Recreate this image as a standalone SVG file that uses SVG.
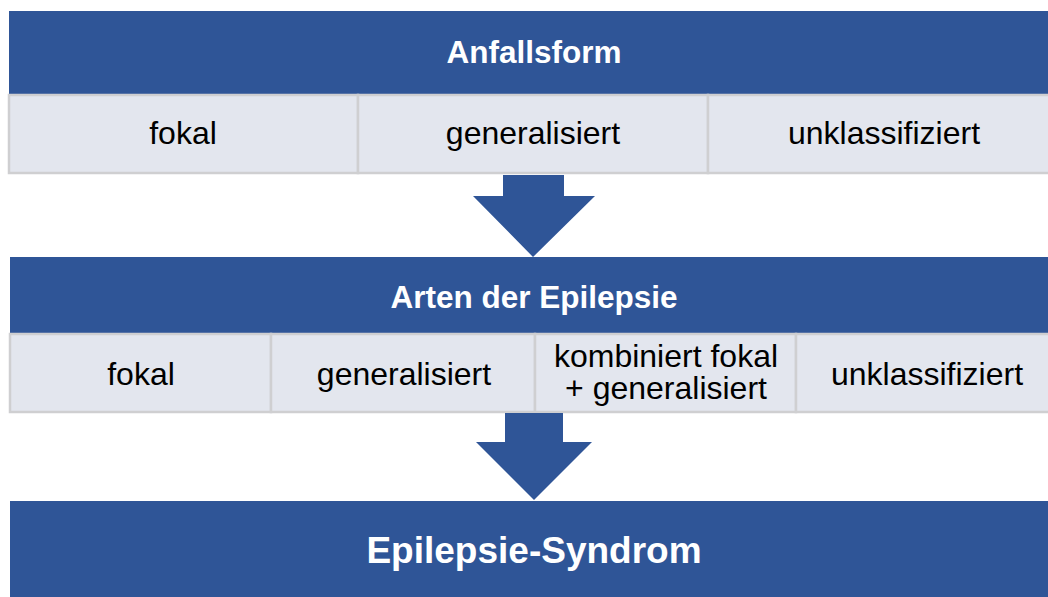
<svg xmlns="http://www.w3.org/2000/svg" width="1048" height="597" viewBox="0 0 1048 597">
<style>
.bar{fill:#2f5597}
.cell{fill:#e3e6ee;stroke:#cfcfd1;stroke-width:2.5}
.arrow{fill:#2f5597}
.h{font-family:"Liberation Sans",Arial,sans-serif;font-weight:bold;fill:#ffffff;text-anchor:middle}
.t{font-family:"Liberation Sans",Arial,sans-serif;font-size:32px;fill:#000000;text-anchor:middle}
</style>
<rect width="1048" height="597" fill="#ffffff"/>
<g id="anfallsform">
<rect class="bar" x="9" y="11" width="1041" height="83"/>
<text class="h" x="534" y="63" font-size="31.5">Anfallsform</text>
</g>
<g id="af-fokal">
<rect class="cell" x="9" y="95" width="349" height="78"/>
<text class="t" x="183" y="144">fokal</text>
</g>
<g id="af-generalisiert">
<rect class="cell" x="358" y="95" width="350" height="78"/>
<text class="t" x="533" y="144">generalisiert</text>
</g>
<g id="af-unklassifiziert">
<rect class="cell" x="708" y="95" width="342" height="78"/>
<text class="t" x="884" y="144">unklassifiziert</text>
</g>
<g id="arten">
<rect class="bar" x="10" y="257" width="1040" height="76"/>
<text class="h" x="534" y="308" font-size="31.5">Arten der Epilepsie</text>
</g>
<g id="ar-fokal">
<rect class="cell" x="10" y="334" width="261" height="78"/>
<text class="t" x="141" y="385">fokal</text>
</g>
<g id="ar-generalisiert">
<rect class="cell" x="271" y="334" width="264" height="78"/>
<text class="t" x="404" y="385">generalisiert</text>
</g>
<g id="ar-kombiniert">
<rect class="cell" x="535" y="334" width="261" height="78"/>
<text class="t" x="666" y="367"><tspan x="666" y="367">kombiniert fokal</tspan><tspan x="666" y="399">+ generalisiert</tspan></text>
</g>
<g id="ar-unklassifiziert">
<rect class="cell" x="796" y="334" width="254" height="78"/>
<text class="t" x="927" y="385">unklassifiziert</text>
</g>
<g id="syndrom">
<rect class="bar" x="10" y="501" width="1040" height="100"/>
<text class="h" x="534" y="563" font-size="37">Epilepsie-Syndrom</text>
</g>
<g id="connectors">
<polygon class="arrow" points="503,175 564,175 564,196 595,196 533,257 473,196 503,196"/>
<polygon class="arrow" points="505,413 563,413 563,442 592,442 534,500 476,442 505,442"/>
</g>
</svg>
